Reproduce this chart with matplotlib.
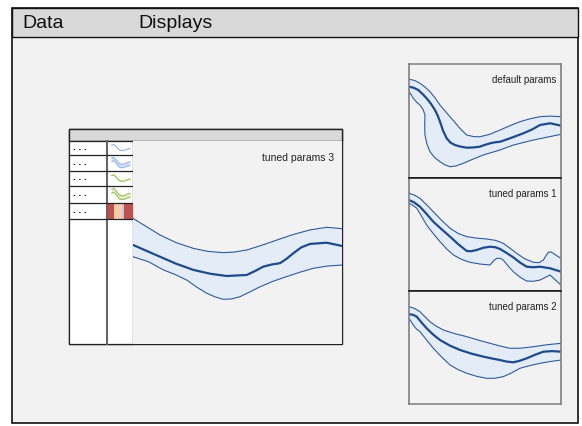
import numpy as np
import matplotlib.pyplot as plt
from matplotlib.patches import Rectangle

W, H = 582, 426

# band curves, x in % of panel width, y in % of panel height (0 = bottom)
p3_cx = [0, 12.9, 20.5, 28.9, 37.0, 44.8, 54.4, 58.5, 62.3, 66.5, 70.3, 73.5, 76.7, 80.5, 84.7, 92.7, 100]
p3_cy = [48.8, 43.0, 39.6, 36.5, 34.6, 33.5, 34.0, 36.0, 38.1, 39.2, 39.8, 42.0, 44.7, 47.6, 49.3, 49.9, 48.3]
p3_ux = [0, 12.9, 20.5, 28.9, 36.0, 43.2, 48.5, 54.4, 61.5, 68.8, 76.5, 84.7, 92.7, 100]
p3_uy = [61.9, 53.7, 50.0, 47.1, 45.6, 45.0, 45.3, 46.3, 48.6, 51.2, 53.9, 56.2, 57.5, 56.8]
p3_lx = [0, 7.5, 14.5, 20.0, 25.7, 30.5, 35.3, 39.3, 43.2, 47.2, 51.2, 55.8, 60.8, 67.0, 73.5, 80.0, 86.3, 93.0, 100]
p3_ly = [43.0, 40.5, 36.5, 34.3, 31.5, 28.0, 25.0, 23.2, 22.0, 22.2, 23.3, 25.6, 28.2, 30.9, 33.2, 35.4, 37.3, 38.4, 38.9]

def_cx = [0, 3.0, 6.1, 8.9, 11.6, 14.5, 17.1, 18.9, 20.4, 22.4, 24.8, 27.3, 30.3, 34.0, 38.0, 42.5, 46.7, 50.0, 53.3, 56.5, 59.9, 66.4, 75.2, 81.0, 86.2, 92.8, 100]
def_cy = [80.1, 79.2, 77.2, 73.7, 69.9, 65.0, 59.6, 54.6, 49.4, 41.5, 34.8, 31.0, 28.9, 27.5, 26.6, 26.8, 27.5, 29.1, 30.4, 31.3, 31.8, 34.8, 39.2, 42.6, 46.5, 48.0, 45.9]
def_ux = [0, 3.6, 7.2, 10.5, 13.8, 17.1, 20.4, 25.0, 29.8, 34.0, 38.0, 42.5, 46.7, 53.0, 59.9, 66.5, 73.0, 79.5, 86.2, 93.0, 100]
def_uy = [86.6, 85.6, 83.1, 79.8, 75.7, 70.3, 64.0, 56.8, 49.4, 42.8, 37.7, 36.3, 36.2, 38.3, 42.1, 45.9, 49.4, 51.9, 53.8, 54.3, 53.8]
def_lx = [0, 1.5, 2.8, 5.0, 7.2, 9.3, 10.5, 10.3, 10.5, 11.8, 13.8, 16.8, 20.4, 23.5, 27.0, 31.0, 35.7, 42.0, 48.9, 59.9, 68.6, 81.8, 100]
def_ly = [75.7, 73.0, 69.9, 66.5, 64.0, 60.0, 55.3, 46.5, 37.7, 29.8, 23.1, 18.0, 14.3, 11.6, 9.9, 10.6, 12.9, 16.5, 20.2, 24.6, 28.9, 33.3, 38.3]

p1_cx = [0, 3.5, 7.2, 11.5, 16.0, 21.5, 27.0, 32.5, 38.0, 41.0, 44.5, 49.0, 53.3, 56.8, 59.9, 64.0, 68.6, 73.0, 77.4, 81.8, 86.2, 92.8, 100]
p1_cy = [80.5, 78.3, 74.6, 68.3, 61.3, 54.6, 48.1, 41.3, 35.4, 35.2, 36.3, 38.3, 39.2, 38.7, 37.2, 33.8, 29.8, 25.2, 21.5, 21.0, 21.5, 20.1, 17.1]
p1_ux = [0, 3.5, 7.2, 11.5, 16.0, 21.5, 27.0, 32.5, 38.0, 44.5, 51.1, 57.0, 62.0, 66.5, 70.8, 76.0, 81.8, 85.5, 88.4, 90.0, 91.6, 93.2, 94.9, 97.5, 100]
p1_uy = [86.5, 84.9, 82.0, 76.4, 70.2, 62.5, 55.5, 50.8, 48.1, 46.8, 46.0, 44.8, 42.2, 37.8, 33.4, 28.6, 25.4, 25.1, 27.4, 31.0, 34.2, 34.6, 33.4, 31.0, 28.9]
p1_lx = [0, 2.5, 5.1, 8.0, 11.6, 16.0, 20.4, 24.8, 29.2, 34.5, 40.1, 46.5, 53.3, 55.5, 57.7, 60.0, 62.0, 65.0, 68.6, 73.0, 77.4, 81.8, 86.2, 89.5, 92.8, 96.5, 100]
p1_ly = [77.6, 75.8, 73.2, 66.7, 58.4, 50.8, 43.6, 37.2, 31.9, 28.0, 25.4, 23.9, 23.0, 26.5, 28.9, 28.9, 27.4, 22.5, 17.1, 12.3, 8.8, 8.6, 9.7, 11.9, 14.2, 9.5, 5.3]

p2_cx = [0, 2.5, 5.1, 8.0, 11.6, 16.0, 20.4, 27.0, 33.6, 41.0, 48.9, 54.5, 59.9, 64.0, 68.6, 72.5, 77.4, 83.0, 88.4, 94.0, 100]
p2_cy = [79.4, 79.0, 77.3, 72.5, 67.0, 61.3, 56.6, 51.6, 47.8, 44.6, 41.9, 40.3, 38.9, 37.6, 36.9, 38.1, 40.4, 43.6, 46.3, 46.8, 46.3]
p2_ux = [0, 3.5, 7.2, 10.5, 13.8, 18.0, 22.6, 30.0, 38.0, 45.5, 53.3, 60.0, 66.4, 73.5, 81.8, 90.5, 100]
p2_uy = [86.1, 84.6, 81.7, 77.2, 72.8, 68.8, 65.5, 62.3, 59.6, 56.6, 53.7, 51.3, 49.3, 49.4, 50.7, 52.4, 53.7]
p2_lx = [0, 1.3, 2.8, 4.8, 7.2, 11.5, 16.0, 21.5, 27.0, 32.5, 38.0, 44.5, 51.1, 56.5, 62.0, 67.5, 73.0, 79.5, 86.2, 93.0, 100]
p2_ly = [75.8, 73.2, 69.9, 66.5, 64.0, 56.8, 49.3, 41.5, 34.5, 30.3, 27.2, 24.5, 22.7, 22.8, 24.2, 27.5, 31.6, 34.0, 36.0, 37.6, 38.9]

# legend icons
icon_x = [0, 0.12, 0.25, 0.4, 0.55, 0.7, 0.85, 1.0]
icon_y = [0.72, 0.78, 0.6, 0.35, 0.28, 0.32, 0.4, 0.45]
bar_colors = ['#c0504d', '#f8cba6', '#b7cbe6', '#c0504d']
bar_widths = [6.3, 7.7, 2.3, 9.0]

BG = '#f2f2f2'
HEAD = '#d9d9d9'
DARK = '#1f4a8c'
THIN = '#2f5b9d'
FILL = '#e4ecf8'

fig = plt.figure(figsize=(W / 100, H / 100), dpi=100)
ax = fig.add_axes([0, 0, 1, 1])
ax.set_xlim(0, W)
ax.set_ylim(H, 0)
ax.axis('off')

# outer frame
ax.add_patch(Rectangle((12, 8), 566, 415, fc=BG, ec='#111111', lw=1.2))
ax.add_patch(Rectangle((12, 8), 566, 29, fc=HEAD, ec='#111111', lw=1.0))
ax.text(22, 23, 'Data', fontsize=14, family='Liberation Sans', va='center', color='#111111')
ax.text(138, 23, 'Displays', fontsize=14, family='Liberation Sans', va='center', color='#111111')

# table
ax.add_patch(Rectangle((69, 129), 273, 215, fc=BG, ec='#222222', lw=1.0))
ax.add_patch(Rectangle((69, 129), 273, 12, fc=HEAD, ec='#222222', lw=1.0))
ax.add_patch(Rectangle((69, 141), 64, 203, fc='white', ec='#222222', lw=0.9))
ax.plot([107, 107], [141, 344], color='#666666', lw=1.5)
rows = [141, 155, 171, 186, 203, 219]
for y in rows[1:]:
    ax.plot([69, 133], [y, y], color='#222222', lw=0.9)
for i in range(5):
    ax.text(73, (rows[i] + rows[i + 1]) / 2 - 1, '. . .', fontsize=7, fontweight='bold',
            family='Liberation Sans', va='center', color='#111111')


def px_axes(x0, y0, x1, y1):
    return fig.add_axes([x0 / W, 1 - y1 / H, (x1 - x0) / W, (y1 - y0) / H])


def band(a, cx, cy, ux, uy, lx, ly):
    a.fill(np.r_[ux, lx[::-1]], np.r_[uy, ly[::-1]], color=FILL, lw=0)
    a.plot(ux, uy, color=THIN, lw=0.8, solid_joinstyle='round')
    a.plot(lx, ly, color=THIN, lw=0.8, solid_joinstyle='round')
    a.plot(cx, cy, color=DARK, lw=1.6, solid_joinstyle='round')
    a.set_xlim(0, 100)
    a.set_ylim(0, 100)
    a.set_xticks([])
    a.set_yticks([])
    a.set_facecolor(BG)


# icons in legend column
for i in range(4):
    ia = px_axes(108, rows[i] + 1, 132, rows[i + 1] - 1)
    ia.set_xlim(-0.2, 1.1)
    ia.set_ylim(0, 1)
    ia.axis('off')
    col = '#9bb7e0' if i < 2 else '#9cc35c'
    fcol = '#d2dff2' if i < 2 else '#dfeccb'
    iy = np.array(icon_y)
    if i % 2 == 0:
        ia.plot(icon_x, iy, color=col, lw=0.9)
    else:
        ia.fill(np.r_[icon_x, icon_x[::-1]], np.r_[iy + 0.13, (iy - 0.13)[::-1]], color=fcol, lw=0)
        ia.plot(icon_x, iy + 0.13, color=col, lw=0.8)
        ia.plot(icon_x, iy - 0.13, color=col, lw=0.8)
left = 107.5
for c, w in zip(bar_colors, bar_widths):
    ax.add_patch(Rectangle((left, 203.5), w, 15.5, fc=c, ec='none'))
    left += w

a3 = px_axes(133, 141, 342, 344)
band(a3, p3_cx, p3_cy, p3_ux, p3_uy, p3_lx, p3_ly)
for s in a3.spines.values():
    s.set_visible(False)
a3.text(0.96, 0.94, 'tuned params 3', transform=a3.transAxes, ha='right', va='top',
        fontsize=7.5, family='Liberation Sans', color='#222222')

# right column of displays
panels = [(64, 178, 'default params', def_cx, def_cy, def_ux, def_uy, def_lx, def_ly),
          (178, 291, 'tuned params 1', p1_cx, p1_cy, p1_ux, p1_uy, p1_lx, p1_ly),
          (291, 404, 'tuned params 2', p2_cx, p2_cy, p2_ux, p2_uy, p2_lx, p2_ly)]
for k, (y0, y1, name, cx, cy, ux, uy, lx, ly) in enumerate(panels):
    a = px_axes(409, y0, 561, y1)
    band(a, cx, cy, ux, uy, lx, ly)
    for side in ['left', 'right']:
        a.spines[side].set_color('#7f7f7f')
        a.spines[side].set_linewidth(1.2)
    a.spines['top'].set_color('#7f7f7f' if k == 0 else '#111111')
    a.spines['bottom'].set_color('#7f7f7f' if k == 2 else '#111111')
    a.spines['top'].set_linewidth(1.1)
    a.spines['bottom'].set_linewidth(1.1)
    a.text(0.97, 0.9, name, transform=a.transAxes, ha='right', va='top',
           fontsize=7, family='Liberation Sans', color='#222222')

fig.savefig('out.png', dpi=100)
